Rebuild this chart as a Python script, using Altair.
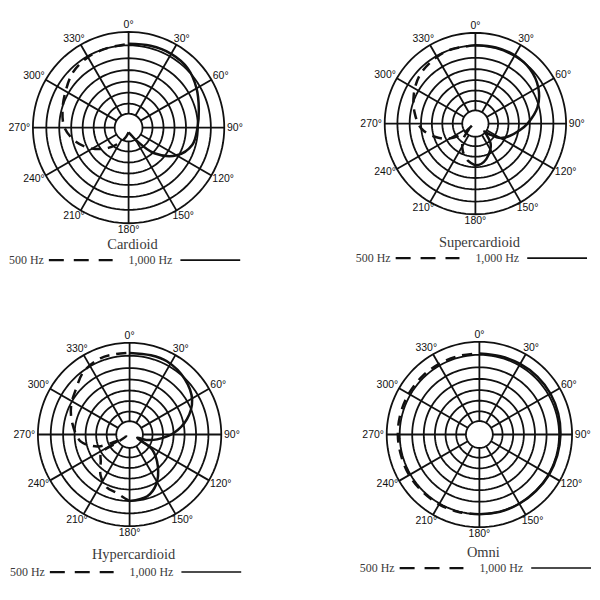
import altair as alt
import numpy as np
import pandas as pd

# ---------------- data (angle in degrees clockwise from front, level = fraction of outer ring) ----
CARD_1K_ANG = [0, 15, 30, 45, 60, 75, 90, 105, 120, 135, 150, 165, 180]
CARD_1K_LVL = [0.875, 0.885, 0.89, 0.875, 0.82, 0.76, 0.72, 0.69, 0.58, 0.38, 0.15, 0.07, 0.05]
CARD_500_ANG = [180, 195, 210, 225, 240, 255, 270, 285, 300, 315, 330, 345, 360]
CARD_500_LVL = [0.05, 0.10, 0.18, 0.30, 0.44, 0.57, 0.67, 0.715, 0.76, 0.82, 0.85, 0.86, 0.875]

SUP_1K_ANG = [0, 15, 30, 45, 60, 75, 90, 99, 110, 120, 127, 131, 135, 142, 150, 163, 172, 180]
SUP_1K_LVL = [0.865, 0.87, 0.87, 0.85, 0.80, 0.71, 0.575, 0.49, 0.40, 0.32, 0.20, 0.13, 0.17, 0.27, 0.33, 0.41, 0.45, 0.46]
SUP_500_ANG = [180, 191, 205, 217, 228, 245, 231, 240, 252, 265, 280, 295, 310, 325, 340, 360]
SUP_500_LVL = [0.46, 0.42, 0.33, 0.23, 0.10, 0.03, 0.17, 0.33, 0.47, 0.60, 0.68, 0.75, 0.81, 0.84, 0.86, 0.865]

HYP_1K_ANG = [0, 15, 27, 45, 61, 75, 88, 100, 108, 113.5, 123.5, 138, 152, 164, 180]
HYP_1K_LVL = [0.89, 0.895, 0.896, 0.853, 0.78, 0.648, 0.482, 0.305, 0.19, 0.09, 0.295, 0.46, 0.617, 0.70, 0.725]
HYP_500_ANG = [180, 184, 193, 203, 215, 227, 237, 238, 240, 244, 248, 253, 262, 281, 296, 310, 324, 339, 350, 360]
HYP_500_LVL = [0.725, 0.70, 0.65, 0.63, 0.55, 0.43, 0.37, 0.20, 0.04, 0.17, 0.34, 0.425, 0.54, 0.636, 0.71, 0.765, 0.85, 0.89, 0.89, 0.89]

OMNI_1K_ANG = [0, 15, 30, 45, 60, 75, 90, 105, 120, 135, 150, 165, 180]
OMNI_1K_LVL = [0.875, 0.875, 0.88, 0.885, 0.885, 0.88, 0.875, 0.87, 0.868, 0.862, 0.862, 0.862, 0.86]
OMNI_500_ANG = [180, 195, 210, 225, 240, 255, 270, 285, 300, 315, 330, 345, 360]
OMNI_500_LVL = [0.86, 0.865, 0.87, 0.87, 0.875, 0.875, 0.88, 0.88, 0.88, 0.88, 0.878, 0.876, 0.875]

RING_LEVELS = [1.0, 0.86, 0.725, 0.60, 0.48, 0.365, 0.25, 0.145]
INNER_LEVEL = 0.145
SPOKE_ANGLES = [0, 30, 60, 90, 120, 150, 180, 210, 240, 270, 300, 330]
SPOKE_LABELS = ["0°", "30°", "60°", "90°", "120°", "150°", "180°", "210°", "240°", "270°", "300°", "330°"]
TITLES = ["Cardioid", "Supercardioid", "Hypercardioid", "Omni"]
LEGEND_TEXT = ["500 Hz", "1,000 Hz"]

INK = "#111111"
GREY = "#3a3a3a"

XY = dict(x="datum.r * sin(datum.a * PI / 180)", y="datum.r * cos(datum.a * PI / 180)")


def ring_frame():
    rows = []
    for k, lv in enumerate(RING_LEVELS):
        for a in range(0, 361, 3):
            rows.append({"ring": k, "r": lv, "a": a})
    return pd.DataFrame(rows)


def curve_frame(angs, lvls):
    return pd.DataFrame({"a": angs, "r": lvls, "i": list(range(len(angs)))})


def panel(title, solid, dashed, u, cx, cy, x0, y0, W, H, title_dy, legend_dy):
    cxl, cyl = cx - x0, cy - y0
    xs = alt.Scale(domain=[-cxl / u, (W - cxl) / u], nice=False, zero=False)
    ys = alt.Scale(domain=[-(H - cyl) / u, cyl / u], nice=False, zero=False)
    X = alt.X("x:Q", scale=xs, axis=None)
    Y = alt.Y("y:Q", scale=ys, axis=None)

    rings = alt.Chart(ring_frame()).transform_calculate(**XY).mark_line(
        stroke=INK, strokeWidth=1.8
    ).encode(x=X, y=Y, detail="ring:N", order="a:Q")

    spokes = alt.Chart(pd.DataFrame({"a": SPOKE_ANGLES})).transform_calculate(
        x=f"{INNER_LEVEL} * sin(datum.a * PI / 180)",
        y=f"{INNER_LEVEL} * cos(datum.a * PI / 180)",
        x2="sin(datum.a * PI / 180)",
        y2="cos(datum.a * PI / 180)",
    ).mark_rule(stroke=INK, strokeWidth=1.8).encode(x=X, y=Y, x2="x2:Q", y2="y2:Q")

    # labels sit just outside the outer ring, pushed out by half their own width sideways
    labels = alt.Chart(pd.DataFrame({"a": SPOKE_ANGLES, "t": SPOKE_LABELS})).transform_calculate(
        x=f"sin(datum.a * PI / 180) * (1 + (length(datum.t) * 2.9 + 2) / {u})",
        y=f"cos(datum.a * PI / 180) * (1 + 7 / {u})",
    ).mark_text(font="Liberation Sans", fontSize=10.5, color=INK, align="center", baseline="middle").encode(
        x=X, y=Y, text="t:N"
    )

    c_solid = alt.Chart(curve_frame(*solid)).transform_calculate(**XY).mark_line(
        stroke=INK, strokeWidth=2.5, interpolate="catmull-rom"
    ).encode(x=X, y=Y, order="i:Q")
    c_dash = alt.Chart(curve_frame(*dashed)).transform_calculate(**XY).mark_line(
        stroke=INK, strokeWidth=2.5, interpolate="catmull-rom", strokeDash=[10, 7]
    ).encode(x=X, y=Y, order="i:Q")

    ttl = alt.Chart(pd.DataFrame({"t": [title]})).mark_text(
        font="Liberation Serif", fontSize=14.5, color=GREY, align="center", baseline="middle"
    ).encode(text="t:N", x=alt.value(cxl + 4), y=alt.value(cyl + title_dy))

    ly = cyl + legend_dy
    leg_t1 = alt.Chart(pd.DataFrame({"t": [LEGEND_TEXT[0]]})).mark_text(
        font="Liberation Serif", fontSize=12, color=GREY, align="left", baseline="middle"
    ).encode(text="t:N", x=alt.value(cxl - 120), y=alt.value(ly))
    leg_t2 = alt.Chart(pd.DataFrame({"t": [LEGEND_TEXT[1]]})).mark_text(
        font="Liberation Serif", fontSize=12, color=GREY, align="left", baseline="middle"
    ).encode(text="t:N", x=alt.value(cxl + 0), y=alt.value(ly))
    leg_d = alt.Chart(pd.DataFrame({"k": [0]})).mark_rule(
        stroke=INK, strokeWidth=2.2, strokeDash=[15, 10]
    ).encode(x=alt.value(cxl - 80), x2=alt.value(cxl - 16), y=alt.value(ly))
    leg_s = alt.Chart(pd.DataFrame({"k": [0]})).mark_rule(
        stroke=INK, strokeWidth=1.6
    ).encode(x=alt.value(cxl + 52), x2=alt.value(cxl + 112), y=alt.value(ly))

    return alt.layer(rings, spokes, c_dash, c_solid, labels, ttl, leg_t1, leg_t2, leg_d, leg_s).properties(
        width=W, height=H
    )


W, H = 292, 282
p1 = panel(TITLES[0], (CARD_1K_ANG, CARD_1K_LVL), (CARD_500_ANG, CARD_500_LVL), 96, 128, 127, 8, 8, W, H, 118, 133)
p2 = panel(TITLES[1], (SUP_1K_ANG, SUP_1K_LVL), (SUP_500_ANG, SUP_500_LVL), 91, 476, 123, 300, 8, W, H, 120, 135)
p3 = panel(TITLES[2], (HYP_1K_ANG, HYP_1K_LVL), (HYP_500_ANG, HYP_500_LVL), 92, 129, 435, 8, 290, W, H, 121, 138)
p4 = panel(TITLES[3], (OMNI_1K_ANG, OMNI_1K_LVL), (OMNI_500_ANG, OMNI_500_LVL), 93, 480, 435, 300, 290, W, H, 119, 134)

chart = (
    alt.concat(p1, p2, p3, p4, columns=2, spacing=0, bounds="flush")
    .resolve_scale(x="independent", y="independent")
    .properties(padding=0, background="white")
    .configure_view(stroke=None)
)

chart.save("out.html", embed_options={"renderer": "svg", "actions": False})
